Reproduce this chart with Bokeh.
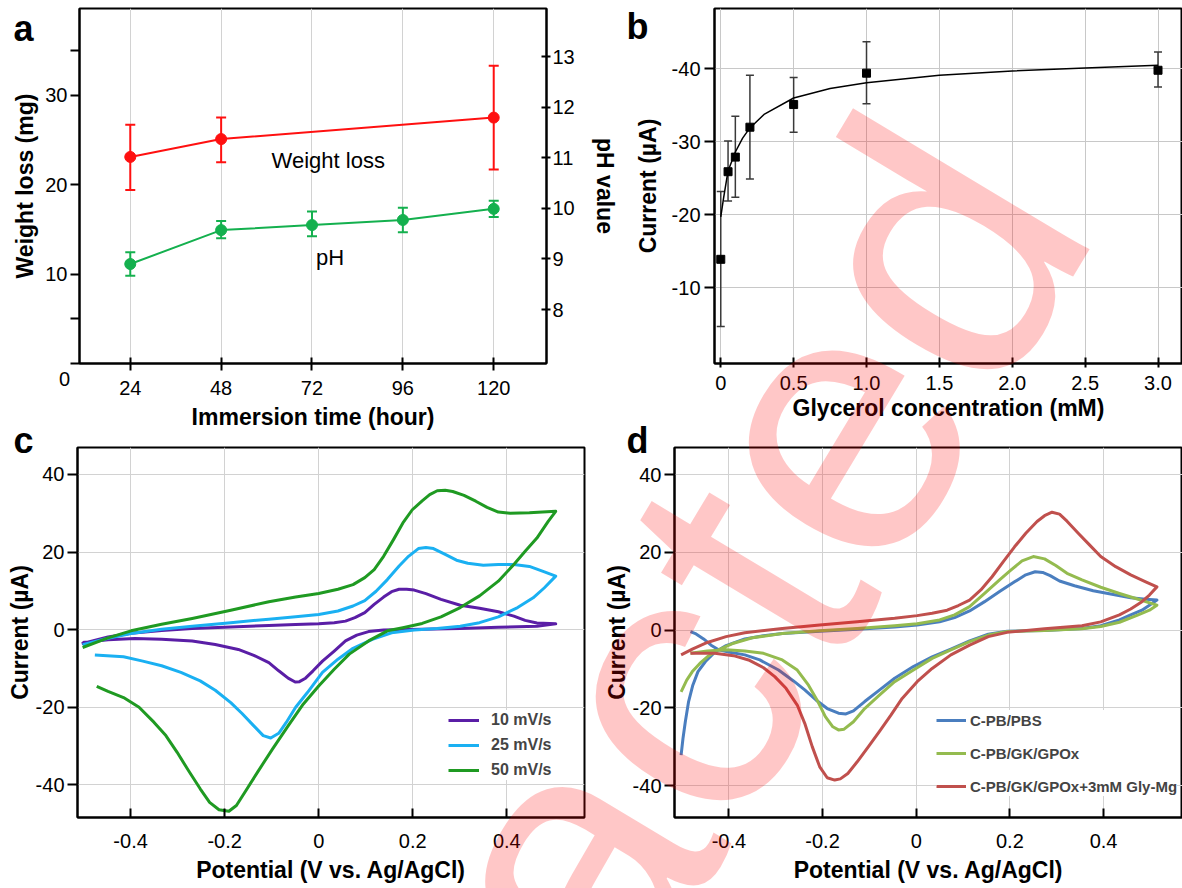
import math
from bokeh.plotting import figure
from bokeh.models import (Range1d, LinearAxis, FixedTicker, Label, Whisker, TeeHead, ColumnDataSource,
                          PrintfTickFormatter)
from bokeh.layouts import column, row
from bokeh.embed import file_html
from bokeh.resources import INLINE

FONT = "Liberation Sans"

# ---------------- panel a data ----------------
hours = [24, 48, 72, 96, 120]
wl_hours = [24, 48, 120]
wl_mean = [23.1, 25.1, 27.5]
wl_upper = [26.7, 27.5, 33.3]
wl_lower = [19.4, 22.5, 21.7]
ph_mean = [8.90, 9.57, 9.67, 9.77, 9.99]
ph_upper = [9.13, 9.75, 9.94, 10.01, 10.15]
ph_lower = [8.67, 9.41, 9.45, 9.53, 9.83]
a_xticks = [24, 48, 72, 96, 120]
a_yticks = [0, 5, 10, 20, 30, 35]
a_phticks = [8, 9, 10, 11, 12, 13]

# ---------------- panel b data ----------------
gly_conc = [0, 0.05, 0.1, 0.2, 0.5, 1.0, 3.0]
gly_current = [-13.9, -25.9, -27.9, -32.0, -35.1, -39.4, -39.8]
gly_err_hi = [-23.2, -30.1, -33.5, -39.1, -38.8, -43.7, -42.3]
gly_err_lo = [-4.7, -21.9, -22.4, -24.9, -31.3, -35.2, -37.5]
fit_conc = [0, 0.02, 0.05, 0.1, 0.15, 0.2, 0.3, 0.5, 0.75, 1.0, 1.5, 2.0, 2.5, 3.0]
fit_current = [-19.7, -22.4, -26.0, -28.6, -30.5, -31.9, -33.8, -36.0, -37.3, -38.1, -39.1, -39.7, -40.1, -40.5]
b_xticks = [0, 0.5, 1.0, 1.5, 2.0, 2.5, 3.0]
b_yticks = [-40, -30, -20, -10]

# ---------------- panel c data (CV at scan rates) ----------------
c10_v = [-0.504, -0.448, -0.399, -0.334, -0.269, -0.187, -0.106, -0.049, 0, 0.033, 0.057, 0.077, 0.098, 0.118,
         0.138, 0.155, 0.171, 0.187, 0.203, 0.228, 0.260, 0.301, 0.342, 0.382, 0.415, 0.439, 0.464, 0.504,
         0.464, 0.382, 0.301, 0.220, 0.138, 0.106, 0.081, 0.057, 0.033, 0.008, -0.012, -0.028, -0.041, -0.050,
         -0.065, -0.085, -0.106, -0.138, -0.171, -0.220, -0.269, -0.334, -0.391, -0.448, -0.502]
c10_i = [-3.6, -1.9, -0.9, -0.2, 0.3, 0.7, 1.1, 1.3, 1.5, 1.8, 2.2, 3.1, 4.4, 6.5,
         8.4, 9.8, 10.4, 10.4, 10.2, 9.3, 7.8, 6.3, 5.5, 4.6, 3.5, 2.4, 1.7, 1.5,
         0.9, 0.6, 0.3, 0.1, -0.1, -0.5, -1.4, -2.9, -5.5, -8.1, -10.6, -12.5, -13.4, -13.5,
         -12.5, -10.6, -8.5, -6.6, -5.1, -3.8, -2.9, -2.5, -2.3, -2.6, -3.3]
c25_v = [-0.502, -0.448, -0.399, -0.334, -0.269, -0.187, -0.106, -0.049, 0, 0.041, 0.073, 0.098, 0.122, 0.146,
         0.171, 0.191, 0.212, 0.228, 0.244, 0.269, 0.293, 0.317, 0.350, 0.382, 0.415, 0.448, 0.480, 0.504,
         0.480, 0.456, 0.423, 0.382, 0.342, 0.301, 0.252, 0.203, 0.155, 0.114, 0.073, 0.041, 0.008, -0.024,
         -0.049, -0.069, -0.085, -0.102, -0.118, -0.138, -0.163, -0.187, -0.220, -0.252, -0.293, -0.334,
         -0.374, -0.415, -0.476]
c25_i = [-3.9, -2.2, -1.0, 0.1, 0.9, 1.8, 2.7, 3.3, 3.9, 4.8, 6.1, 7.5, 9.9, 12.9,
         16.4, 18.9, 20.9, 21.2, 20.9, 19.4, 17.9, 17.1, 16.6, 16.8, 16.8, 16.3, 14.9, 13.8,
         10.8, 8.2, 5.7, 3.3, 1.8, 0.9, 0.3, -0.1, -0.8, -2.5, -4.8, -7.6, -11.0, -16.2,
         -20.0, -23.9, -26.7, -27.9, -27.3, -24.8, -21.6, -18.8, -15.6, -13.2, -11.0, -9.3,
         -8.1, -7.0, -6.5]
c50_v = [-0.502, -0.448, -0.399, -0.334, -0.269, -0.187, -0.106, -0.049, 0, 0.041, 0.073, 0.098, 0.118, 0.138,
         0.159, 0.179, 0.199, 0.220, 0.236, 0.252, 0.269, 0.285, 0.309, 0.334, 0.358, 0.382, 0.407, 0.448, 0.504,
         0.488, 0.464, 0.439, 0.415, 0.382, 0.342, 0.301, 0.260, 0.220, 0.179, 0.146, 0.106, 0.065, 0.033, 0,
         -0.033, -0.065, -0.098, -0.130, -0.155, -0.175, -0.191, -0.212, -0.232, -0.252, -0.277, -0.301,
         -0.325, -0.350, -0.382, -0.415, -0.448, -0.472]
c50_i = [-4.6, -2.1, -0.3, 1.4, 2.9, 5.0, 7.2, 8.4, 9.3, 10.4, 11.6, 13.4, 15.5, 18.9,
         23.2, 27.5, 30.9, 33.2, 34.8, 35.8, 35.9, 35.6, 34.6, 33.1, 31.5, 30.3, 30.0, 30.1, 30.5,
         27.9, 23.6, 20.2, 16.8, 12.5, 8.7, 5.7, 3.3, 1.6, 0.5, -0.3, -2.9, -6.3, -10.2, -14.5,
         -19.2, -24.8, -30.7, -36.7, -41.5, -45.3, -46.8, -46.4, -44.5, -41.0, -36.3, -31.6,
         -27.3, -23.9, -20.0, -17.5, -15.9, -14.6]
c_labels = ["10 mV/s", "25 mV/s", "50 mV/s"]

# ---------------- panel d data (CV of electrodes) ----------------
pbs_v = [-0.502, -0.498, -0.493, -0.486, -0.477, -0.466, -0.450, -0.430, -0.406, -0.366, -0.326, -0.286, -0.206,
         -0.126, -0.046, 0.002, 0.050, 0.082, 0.114, 0.146, 0.178, 0.210, 0.234, 0.254, 0.270, 0.286, 0.306,
         0.338, 0.378, 0.418, 0.458, 0.490, 0.514,
         0.498, 0.482, 0.458, 0.434, 0.394, 0.354, 0.274, 0.194, 0.154, 0.114, 0.074, 0.034, -0.006, -0.046,
         -0.078, -0.110, -0.134, -0.150, -0.166, -0.190, -0.214, -0.238, -0.262, -0.294, -0.334, -0.366,
         -0.398, -0.422, -0.438, -0.454, -0.470, -0.482]
pbs_i = [-32.2, -27.9, -23.6, -18.4, -14.2, -10.7, -8.1, -5.7, -4.0, -2.3, -1.5, -0.9, -0.3,
         0.2, 0.8, 1.3, 2.1, 3.2, 4.9, 7.3, 9.9, 12.4, 14.2, 15.0, 14.8, 14.0, 12.6,
         11.4, 10.1, 9.2, 8.3, 7.9, 7.7,
         6.4, 5.1, 3.9, 2.6, 1.1, 0.4, -0.1, -0.3, -1.1, -2.8, -4.9, -6.9, -9.4, -12.4,
         -15.4, -18.4, -20.8, -21.6, -21.4, -20.2, -18.0, -15.4, -13.1, -10.3, -7.7, -6.4,
         -5.7, -5.1, -3.9, -2.3, -1.0, -0.4]
gpox_v = [-0.502, -0.490, -0.478, -0.462, -0.446, -0.422, -0.390, -0.350, -0.286, -0.206, -0.126, -0.046,
          0.002, 0.050, 0.082, 0.114, 0.146, 0.178, 0.202, 0.226, 0.250, 0.274, 0.298, 0.322, 0.354, 0.394,
          0.434, 0.474, 0.514,
          0.498, 0.474, 0.434, 0.394, 0.354, 0.274, 0.194, 0.154, 0.114, 0.074, 0.034, -0.006, -0.046, -0.078,
          -0.110, -0.134, -0.154, -0.166, -0.178, -0.194, -0.210, -0.230, -0.254, -0.286, -0.326, -0.366,
          -0.406, -0.446, -0.482]
gpox_i = [-15.9, -12.9, -10.7, -8.6, -6.9, -5.1, -3.4, -2.0, -0.9, -0.2, 0.4, 1.1,
          1.6, 2.6, 3.9, 6.0, 9.4, 12.9, 15.4, 17.8, 18.9, 18.3, 16.6, 14.6, 12.9, 11.0,
          9.4, 7.9, 6.4,
          5.1, 3.9, 2.0, 0.9, 0.3, -0.1, -0.4, -1.3, -3.0, -5.1, -7.3, -10.3, -13.3, -16.7,
          -20.2, -23.6, -25.5, -25.7, -24.9, -22.3, -18.4, -14.2, -10.3, -7.7, -6.0, -5.4,
          -5.1, -5.4, -6.0]
glymg_v = [-0.502, -0.478, -0.446, -0.406, -0.366, -0.286, -0.206, -0.126, -0.046, 0.002, 0.034, 0.066, 0.090,
           0.114, 0.138, 0.162, 0.186, 0.210, 0.234, 0.258, 0.274, 0.290, 0.306, 0.322, 0.346, 0.370, 0.394,
           0.426, 0.458, 0.490, 0.514,
           0.498, 0.482, 0.458, 0.434, 0.394, 0.354, 0.274, 0.194, 0.154, 0.114, 0.074, 0.034, 0.002, -0.030,
           -0.054, -0.078, -0.102, -0.126, -0.146, -0.162, -0.174, -0.190, -0.206, -0.222, -0.238, -0.254,
           -0.278, -0.302, -0.326, -0.358, -0.390, -0.430, -0.482]
glymg_i = [-6.4, -4.9, -3.2, -1.7, -0.7, 0.4, 1.3, 2.1, 3.0, 3.7, 4.3, 5.1, 6.3,
           7.7, 10.3, 13.7, 17.6, 21.4, 24.9, 27.9, 29.4, 30.3, 29.8, 28.0, 24.9, 21.9, 18.9,
           16.3, 14.2, 12.4, 11.1,
           9.0, 7.3, 5.4, 3.9, 2.1, 1.1, 0.3, -0.6, -1.7, -3.9, -6.4, -9.9, -13.3, -17.6,
           -21.9, -26.0, -30.0, -33.9, -36.9, -38.3, -38.6, -38.0, -35.2, -30.0, -24.0, -19.3,
           -15.0, -12.0, -9.7, -7.7, -6.6, -6.0, -6.0]
d_labels = ["C-PB/PBS", "C-PB/GK/GPOx", "C-PB/GK/GPOx+3mM Gly-Mg"]
cv_xticks = [-0.4, -0.2, 0, 0.2, 0.4]
cv_yticks = [-40, -20, 0, 20, 40]

# ---------------- styles ----------------
RED = "#ff1010"
GREEN_A = "#14b04e"
C_COLORS = ["#5a1ea6", "#1ab0f2", "#1f9a22"]
D_COLORS = ["#4a7ebf", "#94bb4f", "#c0504d"]
GRID = "#d2d2d2"
PAGE_W, PAGE_H = 1182, 888


def make_fig(w, h, xr, yr, bl, br, bt, bb):
    return figure(width=w, height=h, x_range=xr, y_range=yr, output_backend="svg",
                  toolbar_location=None, min_border_left=bl, min_border_right=br,
                  min_border_top=bt, min_border_bottom=bb, background_fill_color="white",
                  border_fill_color="white", outline_line_color="black", outline_line_width=2)


def style_axis(ax, tin, tout, lst, alst, label=None):
    ax.axis_line_color = "black"
    ax.axis_line_width = 2
    ax.major_tick_line_color = "black"
    ax.major_tick_line_width = 2
    ax.major_tick_in = tin
    ax.major_tick_out = tout
    ax.minor_tick_line_color = None
    ax.major_label_text_font = FONT
    ax.major_label_text_font_size = "20px"
    ax.major_label_text_color = "black"
    ax.major_label_standoff = lst
    ax.axis_label_text_font = FONT
    ax.axis_label_text_font_size = "23px"
    ax.axis_label_text_font_style = "bold"
    ax.axis_label_text_color = "black"
    ax.axis_label_standoff = alst
    if label is not None:
        ax.axis_label = label


def style_legend(lg, loc, size, gw, standoff, spacing):
    lg.location = loc
    lg.background_fill_color = "white"
    lg.background_fill_alpha = 1
    lg.border_line_color = None
    lg.label_text_font = FONT
    lg.label_text_font_size = size
    lg.label_text_font_style = "bold"
    lg.glyph_width = gw
    lg.glyph_height = 20
    lg.label_height = 20
    lg.label_standoff = standoff
    lg.spacing = spacing
    lg.padding = 4
    lg.margin = 0


# ================= panel a =================
pa = make_fig(620, 432, Range1d(10.59, 133.94), Range1d(0, 39.7), 79, 72, 8, 64)
pa.extra_y_ranges = {"ph": Range1d(6.934, 13.949)}
ph_axis = LinearAxis(y_range_name="ph")
pa.add_layout(ph_axis, "right")
xt = FixedTicker(ticks=a_xticks)
pa.xaxis[0].ticker = xt
pa.xgrid.ticker = xt
pa.yaxis[0].ticker = FixedTicker(ticks=a_yticks)
pa.yaxis[0].major_label_overrides = {0: "", 5: "", 35: ""}
ph_axis.ticker = FixedTicker(ticks=a_phticks)
style_axis(pa.xaxis[0], 6, 7, 10, 6, "Immersion time (hour)")
style_axis(pa.yaxis[0], 0, 9, 3, 4, "Weight loss (mg)")
style_axis(ph_axis, 5, 4, 2, 14, "pH value")
pa.ygrid.visible = False
pa.xgrid.grid_line_color = GRID
pa.xgrid.grid_line_width = 1

wl_src = ColumnDataSource(dict(x=wl_hours, y=wl_mean, up=wl_upper, lo=wl_lower))
ph_src = ColumnDataSource(dict(x=hours, y=ph_mean, up=ph_upper, lo=ph_lower))
pa.add_layout(Whisker(source=wl_src, base="x", upper="up", lower="lo", line_color=RED, line_width=2,
                      upper_head=TeeHead(size=10, line_color=RED, line_width=2),
                      lower_head=TeeHead(size=10, line_color=RED, line_width=2)))
pa.add_layout(Whisker(source=ph_src, base="x", upper="up", lower="lo", y_range_name="ph",
                      line_color=GREEN_A, line_width=2,
                      upper_head=TeeHead(size=10, line_color=GREEN_A, line_width=2),
                      lower_head=TeeHead(size=10, line_color=GREEN_A, line_width=2)))
pa.line("x", "y", source=wl_src, color=RED, line_width=2)
pa.scatter("x", "y", source=wl_src, size=11, color=RED)
pa.line("x", "y", source=ph_src, color=GREEN_A, line_width=2, y_range_name="ph")
pa.scatter("x", "y", source=ph_src, size=11, color=GREEN_A, y_range_name="ph")
pa.add_layout(Label(x=76.3, y=22.7, text="Weight loss", text_font=FONT, text_font_size="22px",
                    text_align="center", text_baseline="middle", text_color="black"))
pa.add_layout(Label(x=76.8, y=11.9, text="pH", text_font=FONT, text_font_size="22px",
                    text_align="center", text_baseline="middle", text_color="black"))

# ================= panel b =================
pb = make_fig(562, 432, Range1d(-0.043, 3.168), Range1d(0.373, -48.26), 94, 0, 8, 63)
bxt = FixedTicker(ticks=b_xticks)
byt = FixedTicker(ticks=b_yticks)
pb.xaxis[0].ticker = bxt
pb.xgrid.ticker = bxt
pb.yaxis[0].ticker = byt
pb.ygrid.ticker = byt
pb.xaxis[0].formatter = PrintfTickFormatter(format="%.1f")
pb.xaxis[0].major_label_overrides = {0: "0"}
pb.yaxis[0].formatter = PrintfTickFormatter(format="%d")
style_axis(pb.xaxis[0], 6, 4, 8, 2, "Glycerol concentration (mM)")
style_axis(pb.yaxis[0], 0, 10, 4, 8, "Current (µA)")
pb.xgrid.grid_line_color = "#c8c8c8"
pb.ygrid.grid_line_color = "#c8c8c8"
b_src = ColumnDataSource(dict(x=gly_conc, y=gly_current, up=gly_err_hi, lo=gly_err_lo))
pb.add_layout(Whisker(source=b_src, base="x", upper="up", lower="lo", line_color="#3a3a3a", line_width=1.5,
                      upper_head=TeeHead(size=8, line_color="#3a3a3a", line_width=1.5),
                      lower_head=TeeHead(size=8, line_color="#3a3a3a", line_width=1.5)))
pb.line(fit_conc, fit_current, color="black", line_width=1.5)
pb.scatter("x", "y", source=b_src, marker="square", size=8, color="black")

# ================= panel c =================
pc = make_fig(600, 456, Range1d(-0.5129, 0.5652), Range1d(-48.4, 46.94), 77, 16, 15, 70)
cxt = FixedTicker(ticks=cv_xticks)
cyt = FixedTicker(ticks=cv_yticks)
pc.xaxis[0].ticker = cxt
pc.xgrid.ticker = cxt
pc.yaxis[0].ticker = cyt
pc.ygrid.ticker = cyt
pc.xaxis[0].formatter = PrintfTickFormatter(format="%.1f")
pc.xaxis[0].major_label_overrides = {0: "0"}
pc.yaxis[0].formatter = PrintfTickFormatter(format="%d")
style_axis(pc.xaxis[0], 9, 0, 16, 6, "Potential (V vs. Ag/AgCl)")
style_axis(pc.yaxis[0], 0, 10, 3, 0, "Current (µA)")
pc.xgrid.grid_line_color = GRID
pc.ygrid.grid_line_color = GRID
for xs, ys, col, lab in zip([c10_v, c25_v, c50_v], [c10_i, c25_i, c50_i], C_COLORS, c_labels):
    pc.line(xs, ys, color=col, line_width=3, line_join="round", legend_label=lab)
style_legend(pc.legend[0], (371, 37), "16px", 31, 12, 5)

# ================= panel d =================
pd = make_fig(582, 456, Range1d(-0.5161, 0.5686), Range1d(-48.23, 46.95), 70, 0, 15, 71)
dxt = FixedTicker(ticks=cv_xticks)
dyt = FixedTicker(ticks=cv_yticks)
pd.xaxis[0].ticker = dxt
pd.xgrid.ticker = dxt
pd.yaxis[0].ticker = dyt
pd.ygrid.ticker = dyt
pd.xaxis[0].formatter = PrintfTickFormatter(format="%.1f")
pd.xaxis[0].major_label_overrides = {0: "0"}
pd.yaxis[0].formatter = PrintfTickFormatter(format="%d")
style_axis(pd.xaxis[0], 9, 0, 16, 6, "Potential (V vs. Ag/AgCl)")
style_axis(pd.yaxis[0], 0, 10, 3, 0, "Current (µA)")
pd.xgrid.grid_line_color = GRID
pd.ygrid.grid_line_color = GRID
for xs, ys, col, lab in zip([pbs_v, gpox_v, glymg_v], [pbs_i, gpox_i, glymg_i], D_COLORS, d_labels):
    pd.line(xs, ys, color=col, line_width=3, line_join="round", legend_label=lab)
style_legend(pd.legend[0], (262, 21), "15px", 30, 4, 13)

# ================= overlay: panel letters, corner tick label, watermark =================
ov = figure(width=PAGE_W, height=PAGE_H, x_range=Range1d(0, PAGE_W), y_range=Range1d(0, PAGE_H),
            output_backend="svg", toolbar_location=None, x_axis_type=None, y_axis_type=None,
            min_border=0, min_border_left=0, min_border_right=0, min_border_top=0, min_border_bottom=0,
            outline_line_color=None, background_fill_color=None, border_fill_color=None)
ov.grid.visible = False
for letter, lx, ly in [("a", 13, 28), ("b", 626, 26), ("c", 13, 440), ("d", 626, 440)]:
    ov.add_layout(Label(x=lx, y=PAGE_H - ly, text=letter, text_font=FONT, text_font_size="36px",
                        text_font_style="bold", text_align="left", text_baseline="alphabetic",
                        text_color="black"))
# the "0" of panel a's weight axis sits below the corner
ov.add_layout(Label(x=64, y=PAGE_H - 378, text="0", text_font=FONT, text_font_size="20px",
                    text_align="center", text_baseline="alphabetic", text_color="black"))
ov.add_layout(Label(x=989, y=PAGE_H - 160, angle=math.radians(59), text="Retracted", text_font=FONT,
                    text_font_size="380px", text_color="#ff0000", text_alpha=0.22, text_align="right",
                    text_baseline="alphabetic", level="overlay"))
ov.margin = (-PAGE_H, 0, 0, 0)

layout = column(row(pa, pb), row(pc, pd), ov)
open("out.html", "w").write(file_html(layout, INLINE))
